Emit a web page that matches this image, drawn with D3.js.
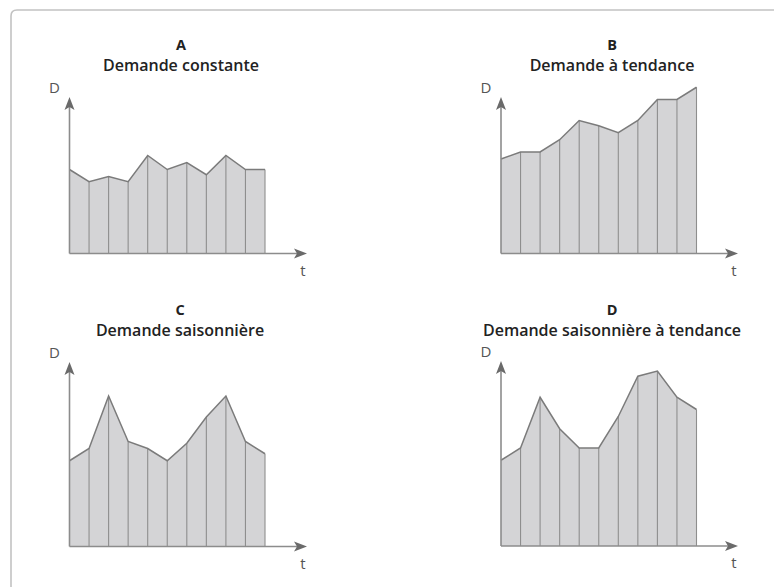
<!DOCTYPE html>
<html>
<head>
<meta charset="utf-8">
<script src="https://cdn.jsdelivr.net/npm/d3@7"></script>
<style>
  html, body { margin: 0; padding: 0; background: #fff; }
  svg { display: block; }
</style>
</head>
<body>
<svg id="chart" width="774" height="587"></svg>
<script>
// ---- data ----
const letters = ["A", "B", "C", "D"];
const titles = ["Demande constante", "Demande à tendance", "Demande saisonnière", "Demande saisonnière à tendance"];
const periods = [0, 1, 2, 3, 4, 5, 6, 7, 8, 9, 10];
const seriesA = [48, 41, 44, 41, 56, 48, 52, 45, 56, 48, 48];
const seriesB = [54, 58, 58, 65, 76, 73, 69, 76, 88, 88, 95];
const seriesC = [49, 56, 86, 60, 56, 49, 59, 74, 86, 60, 53];
const seriesD = [49, 56, 85, 67, 56, 56, 74, 97, 100, 85, 78];
const axisLabelY = "D";
const axisLabelX = "t";

const allSeries = [seriesA, seriesB, seriesC, seriesD];

// ---- layout ----
const panels = [
  { ox: 69.5, base: 253.5, tipY: 97,  titleX: 181, titleY: 50,  tipX: 307 },
  { ox: 501,  base: 253.5, tipY: 97,  titleX: 612, titleY: 50,  tipX: 738 },
  { ox: 69.5, base: 546.5, tipY: 362, titleX: 180, titleY: 315, tipX: 307 },
  { ox: 501,  base: 546,   tipY: 361, titleX: 612, titleY: 315, tipX: 738 }
];

const svg = d3.select("#chart");

// frame
svg.append("path")
  .attr("d", "M11,590 L11,16 Q11,10 17,10 L776,10")
  .attr("fill", "none")
  .attr("stroke", "#c2c2c2")
  .attr("stroke-width", 1.6);

const fillCol = "#d4d4d6";
const lineCol = "#7b7b7b";
const axisCol = "#8c8c8c";
const arrowCol = "#6a6a6a";

panels.forEach((p, k) => {
  const data = allSeries[k];
  const g = svg.append("g");

  const x = d3.scaleLinear().domain([0, 10]).range([p.ox, p.ox + 195.5]);
  const y = d3.scaleLinear().domain([0, 100]).range([p.base, p.base - 175]);

  // area
  const area = d3.area()
    .x((d, i) => x(periods[i]))
    .y0(y(0))
    .y1(d => y(d));
  g.append("path")
    .datum(data)
    .attr("d", area)
    .attr("fill", fillCol);

  // vertical dividers
  g.selectAll("line.div")
    .data(data.slice(1))
    .join("line")
    .attr("x1", (d, i) => x(periods[i + 1]))
    .attr("x2", (d, i) => x(periods[i + 1]))
    .attr("y1", y(0))
    .attr("y2", d => y(d))
    .attr("stroke", "#8e8e8e")
    .attr("stroke-width", 1.1);

  // top line
  const line = d3.line()
    .x((d, i) => x(periods[i]))
    .y(d => y(d));
  g.append("path")
    .datum(data)
    .attr("d", line)
    .attr("fill", "none")
    .attr("stroke", lineCol)
    .attr("stroke-width", 1.5)
    .attr("stroke-linejoin", "miter");

  // axes
  g.append("line")
    .attr("x1", p.ox).attr("x2", p.ox)
    .attr("y1", p.base).attr("y2", p.tipY + 8)
    .attr("stroke", axisCol).attr("stroke-width", 1.6);
  g.append("line")
    .attr("x1", p.ox).attr("x2", p.tipX - 8)
    .attr("y1", p.base).attr("y2", p.base)
    .attr("stroke", axisCol).attr("stroke-width", 1.6);

  // arrow heads
  const L = 13, W = 5, N = 3;
  g.append("path")
    .attr("d", `M${p.ox},${p.tipY} L${p.ox + W},${p.tipY + L} L${p.ox},${p.tipY + L - N} L${p.ox - W},${p.tipY + L} Z`)
    .attr("fill", arrowCol);
  g.append("path")
    .attr("d", `M${p.tipX},${p.base} L${p.tipX - L},${p.base - W} L${p.tipX - L + N},${p.base} L${p.tipX - L},${p.base + W} Z`)
    .attr("fill", arrowCol);

  // axis labels
  g.append("text")
    .attr("x", p.ox - 15).attr("y", p.tipY - 4)
    .attr("text-anchor", "middle")
    .attr("font-family", "'Open Sans', sans-serif")
    .attr("font-size", 15)
    .attr("fill", "#555")
    .text(axisLabelY);
  g.append("text")
    .attr("x", p.tipX - 4).attr("y", p.base + 22)
    .attr("text-anchor", "middle")
    .attr("font-family", "'Open Sans', sans-serif")
    .attr("font-size", 15)
    .attr("fill", "#555")
    .text(axisLabelX);

  // titles
  g.append("text")
    .attr("x", p.titleX).attr("y", p.titleY)
    .attr("text-anchor", "middle")
    .attr("font-family", "'Open Sans', sans-serif")
    .attr("font-weight", 700)
    .attr("font-size", 14.5)
    .attr("fill", "#222")
    .text(letters[k]);
  g.append("text")
    .attr("x", p.titleX).attr("y", p.titleY + 21)
    .attr("text-anchor", "middle")
    .attr("font-family", "'Open Sans', sans-serif")
    .attr("font-weight", 600)
    .attr("font-size", 16)
    .attr("fill", "#222")
    .text(titles[k]);
});
</script>
</body>
</html>
